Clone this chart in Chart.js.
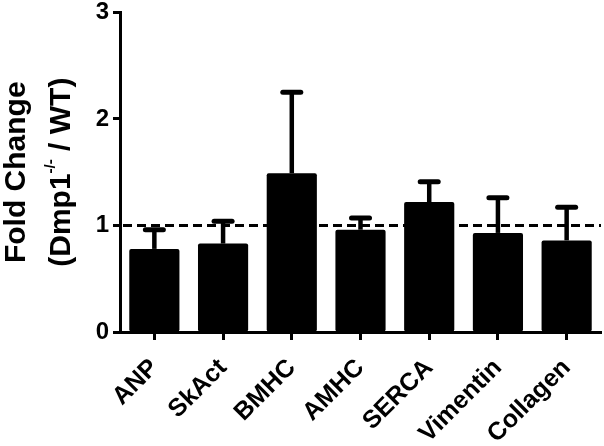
<!DOCTYPE html>
<html>
<head>
<meta charset="utf-8">
<script src="https://cdn.jsdelivr.net/npm/chart.js@4.4.0/dist/chart.umd.min.js"></script>
<style>
    html, body { margin: 0; padding: 0; background: #fff; }
    #chart_container { width: 604px; height: 446px; }
</style>
</head>
<body>
<div id="chart_container"><canvas id="fold_chart"></canvas></div>
<script>
var genes = ['ANP', 'SkAct', 'BMHC', 'AMHC', 'SERCA', 'Vimentin', 'Collagen'];
var foldMeans = [0.78, 0.83, 1.49, 0.96, 1.22, 0.93, 0.86];
var foldErrors = [0.18, 0.21, 0.76, 0.11, 0.19, 0.33, 0.31];
var yTicks = [0, 1, 2, 3];
var refLine = 1;
var titleLine1 = 'Fold Change';
var titleLine2 = ['(Dmp1', '-/-', ' / WT)'];

var FONT = "'Liberation Sans', Arial, sans-serif";
Chart.defaults.font.family = FONT;
Chart.defaults.color = '#000';

// dashed line at fold change = 1
var refLinePlugin = {
    id: 'refLine',
    beforeDatasetsDraw: function (chart) {
        var ctx = chart.ctx;
        var area = chart.chartArea;
        var y = chart.scales.y.getPixelForValue(refLine);
        ctx.save();
        ctx.strokeStyle = '#000';
        ctx.lineWidth = 3;
        ctx.setLineDash([9, 5]);
        ctx.beginPath();
        ctx.moveTo(area.left + 3, y);
        ctx.lineTo(area.right, y);
        ctx.stroke();
        ctx.restore();
    }
};

// upper error bars only
var errorBarPlugin = {
    id: 'errorBars',
    afterDatasetsDraw: function (chart) {
        var ctx = chart.ctx;
        var yScale = chart.scales.y;
        var meta = chart.getDatasetMeta(0);
        ctx.save();
        ctx.strokeStyle = '#000';
        meta.data.forEach(function (bar, i) {
            var yEnd = yScale.getPixelForValue(foldMeans[i] + foldErrors[i]);
            ctx.lineCap = 'butt';
            ctx.lineWidth = 4.5;
            ctx.beginPath();
            ctx.moveTo(bar.x, bar.y);
            ctx.lineTo(bar.x, yEnd);
            ctx.stroke();
            ctx.lineCap = 'round';
            ctx.lineWidth = 5;
            ctx.beginPath();
            ctx.moveTo(bar.x - 9, yEnd);
            ctx.lineTo(bar.x + 9, yEnd);
            ctx.stroke();
        });
        ctx.restore();
    }
};

// two line y title with superscript
var yTitlePlugin = {
    id: 'yTitle',
    afterDraw: function (chart) {
        var ctx = chart.ctx;
        var area = chart.chartArea;
        var cy = (area.top + area.bottom) / 2;
        var big = 'bold 30px ' + FONT;
        var small = 'bold 15px ' + FONT;
        ctx.save();
        ctx.fillStyle = '#000';
        ctx.textBaseline = 'alphabetic';

        ctx.translate(25, cy);
        ctx.rotate(-Math.PI / 2);
        ctx.font = big;
        ctx.textAlign = 'center';
        ctx.fillText(titleLine1, 0, 0);
        ctx.restore();

        ctx.save();
        ctx.fillStyle = '#000';
        ctx.textBaseline = 'alphabetic';
        ctx.translate(70, cy);
        ctx.rotate(-Math.PI / 2);
        ctx.textAlign = 'left';
        ctx.font = big;
        var w1 = ctx.measureText(titleLine2[0]).width;
        var w3 = ctx.measureText(titleLine2[2]).width;
        ctx.font = small;
        var w2 = ctx.measureText(titleLine2[1]).width;
        var x = -(w1 + w2 + w3) / 2;
        ctx.font = big;
        ctx.fillText(titleLine2[0], x, 0);
        x += w1;
        ctx.font = small;
        ctx.fillText(titleLine2[1], x, -15);
        x += w2;
        ctx.font = big;
        ctx.fillText(titleLine2[2], x, 0);
        ctx.restore();
    }
};

var ctx = document.getElementById('fold_chart').getContext('2d');
var fold_chart = new Chart(ctx, {
    type: 'bar',
    data: {
        labels: genes,
        datasets: [{
            data: foldMeans,
            backgroundColor: '#000',
            borderWidth: 0,
            borderRadius: 2,
            borderSkipped: false,
            barPercentage: 0.73,
            categoryPercentage: 1.0
        }]
    },
    options: {
        responsive: true,
        maintainAspectRatio: false,
        animation: false,
        layout: {
            padding: { top: 12, right: 3, bottom: 0, left: 0 }
        },
        plugins: {
            legend: { display: false },
            title: { display: false },
            tooltip: { enabled: false }
        },
        scales: {
            x: {
                offset: true,
                grid: {
                    display: true,
                    offset: false,
                    drawOnChartArea: false,
                    drawTicks: true,
                    tickLength: 8,
                    tickWidth: 3,
                    color: '#000'
                },
                border: { display: true, width: 3, color: '#000' },
                ticks: {
                    autoSkip: false,
                    minRotation: 45,
                    maxRotation: 45,
                    padding: 15,
                    color: '#000',
                    font: { size: 25, weight: 'bold', lineHeight: 1.0 }
                },
                afterFit: function (scale) { scale.height = 114; }
            },
            y: {
                min: 0,
                max: 3,
                afterBuildTicks: function (scale) {
                    scale.ticks = yTicks.map(function (v) { return { value: v }; });
                },
                grid: {
                    display: true,
                    drawOnChartArea: false,
                    drawTicks: true,
                    tickLength: 7,
                    tickWidth: 3,
                    color: '#000'
                },
                border: { display: true, width: 3, color: '#000' },
                ticks: {
                    padding: 4,
                    color: '#000',
                    font: { size: 24, weight: 'bold', lineHeight: 0.7 }
                },
                afterFit: function (scale) { scale.width = 120; }
            }
        }
    },
    plugins: [refLinePlugin, errorBarPlugin, yTitlePlugin]
});
</script>
</body>
</html>
